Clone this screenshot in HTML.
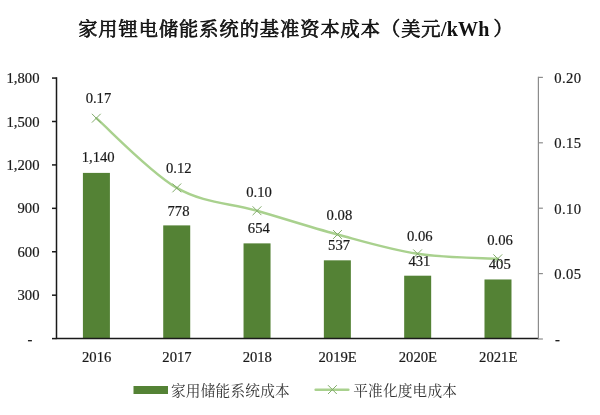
<!DOCTYPE html>
<html lang="zh-CN">
<head>
<meta charset="utf-8">
<title>家用锂电储能系统的基准资本成本</title>
<style>
html,body{margin:0;padding:0;background:#fff;}
body{width:600px;height:415px;overflow:hidden;position:relative;}
svg{display:block;position:absolute;left:0;top:0;}
text{font-family:"Liberation Serif","Noto Serif CJK SC",serif;font-size:14.67px;fill:#1a1a1a;stroke:#1a1a1a;stroke-width:0.2px;}
.title{font-family:"Liberation Serif","Noto Serif CJK SC",serif;font-weight:400;font-size:19.2px;letter-spacing:1px;fill:#111;stroke:#111;stroke-width:0.7px;}
.title .lat{font-weight:bold;stroke:none;font-size:20px;letter-spacing:0.2px;}
.leg{font-family:"Liberation Serif","Noto Serif CJK SC",serif;font-size:14.67px;letter-spacing:0.2px;fill:#333;stroke:none;}
</style>
</head>
<body>
<svg width="600" height="415" viewBox="0 0 600 415">
<rect x="0" y="0" width="600" height="415" fill="#ffffff"/>
<text class="title" x="78.2" y="35.6">家用锂电储能系统的基准资本成本（美元<tspan class="lat" dx="-0.6">/kWh</tspan><tspan dx="4">）</tspan></text>

<rect x="82.91" y="172.90" width="27" height="165.70" fill="#548235"/>
<rect x="163.22" y="225.39" width="27" height="113.21" fill="#548235"/>
<rect x="243.54" y="243.37" width="27" height="95.23" fill="#548235"/>
<rect x="323.86" y="260.33" width="27" height="78.27" fill="#548235"/>
<rect x="404.17" y="275.70" width="27" height="62.90" fill="#548235"/>
<rect x="484.49" y="279.47" width="27" height="59.13" fill="#548235"/>
<g stroke="#1a1a1a" stroke-width="1.5" fill="none">
<path d="M56.50,77.33 V338.60 H538.40"/>
<path d="M52.00,338.60 H56.50"/>
<path d="M52.00,295.18 H56.50"/>
<path d="M52.00,251.76 H56.50"/>
<path d="M52.00,208.34 H56.50"/>
<path d="M52.00,164.92 H56.50"/>
<path d="M52.00,121.50 H56.50"/>
<path d="M52.00,78.08 H56.50"/>
</g>
<g stroke="#8c8c8c" stroke-width="1.2" fill="none">
<path d="M538.40,76.8 V339.60"/>
<path d="M538.40,339.00 H542.90"/>
<path d="M538.40,273.60 H542.90"/>
<path d="M538.40,208.20 H542.90"/>
<path d="M538.40,142.80 H542.90"/>
<path d="M538.40,77.40 H542.90"/>
</g>
<text x="30" y="343.60" text-anchor="middle">-</text>
<text x="39.5" y="300.18" text-anchor="end">300</text>
<text x="39.5" y="256.76" text-anchor="end">600</text>
<text x="39.5" y="213.34" text-anchor="end">900</text>
<text x="39.5" y="169.92" text-anchor="end">1,200</text>
<text x="39.5" y="126.50" text-anchor="end">1,500</text>
<text x="39.5" y="83.08" text-anchor="end">1,800</text>
<text x="557.5" y="344.00" text-anchor="middle">-</text>
<text x="554.3" y="278.90" letter-spacing="0.4">0.05</text>
<text x="554.3" y="213.50" letter-spacing="0.4">0.10</text>
<text x="554.3" y="148.10" letter-spacing="0.4">0.15</text>
<text x="554.3" y="82.70" letter-spacing="0.4">0.20</text>
<text x="96.66" y="362" text-anchor="middle">2016</text>
<text x="176.97" y="362" text-anchor="middle">2017</text>
<text x="257.29" y="362" text-anchor="middle">2018</text>
<text x="337.61" y="362" text-anchor="middle">2019E</text>
<text x="417.92" y="362" text-anchor="middle">2020E</text>
<text x="498.24" y="362" text-anchor="middle">2021E</text>
<path d="M96.30,118.20 C109.72,129.82 150.02,172.47 176.80,187.90 C203.58,203.33 230.22,202.98 257.00,210.75 C283.78,218.52 310.73,227.32 337.50,234.50 C364.27,241.68 390.88,249.75 417.60,253.80 C444.32,257.85 484.43,257.97 497.80,258.80" fill="none" stroke="#a9d18e" stroke-width="2.4" stroke-linecap="round" stroke-linejoin="round"/>
<path d="M91.90,113.80 l8.8,8.8 M91.90,122.60 l8.8,-8.8" stroke="#82ab6b" stroke-width="1" fill="none"/>
<path d="M172.40,183.50 l8.8,8.8 M172.40,192.30 l8.8,-8.8" stroke="#82ab6b" stroke-width="1" fill="none"/>
<path d="M252.60,206.35 l8.8,8.8 M252.60,215.15 l8.8,-8.8" stroke="#82ab6b" stroke-width="1" fill="none"/>
<path d="M333.10,230.10 l8.8,8.8 M333.10,238.90 l8.8,-8.8" stroke="#82ab6b" stroke-width="1" fill="none"/>
<path d="M413.20,249.40 l8.8,8.8 M413.20,258.20 l8.8,-8.8" stroke="#82ab6b" stroke-width="1" fill="none"/>
<path d="M493.40,254.40 l8.8,8.8 M493.40,263.20 l8.8,-8.8" stroke="#82ab6b" stroke-width="1" fill="none"/>
<text x="98.16" y="162.00" text-anchor="middle">1,140</text>
<text x="98.46" y="103.00" text-anchor="middle">0.17</text>
<text x="178.47" y="215.50" text-anchor="middle">778</text>
<text x="178.78" y="173.25" text-anchor="middle">0.12</text>
<text x="258.79" y="233.00" text-anchor="middle">654</text>
<text x="259.09" y="197.00" text-anchor="middle">0.10</text>
<text x="339.11" y="250.00" text-anchor="middle">537</text>
<text x="339.41" y="220.00" text-anchor="middle">0.08</text>
<text x="419.42" y="265.50" text-anchor="middle">431</text>
<text x="419.72" y="240.50" text-anchor="middle">0.06</text>
<text x="499.74" y="268.75" text-anchor="middle">405</text>
<text x="500.04" y="245.00" text-anchor="middle">0.06</text>
<rect x="133.5" y="386" width="34.5" height="8" fill="#548235"/>
<text class="leg" x="171" y="396">家用储能系统成本</text>
<path d="M315.6,389.7 H348.4" stroke="#a9d18e" stroke-width="2.4" stroke-linecap="round"/>
<path d="M328,385.2 l8.8,8.8 M328,394 l8.8,-8.8" stroke="#82ab6b" stroke-width="1" fill="none"/>
<text class="leg" x="353.2" y="396">平准化度电成本</text>
</svg>
</body>
</html>
